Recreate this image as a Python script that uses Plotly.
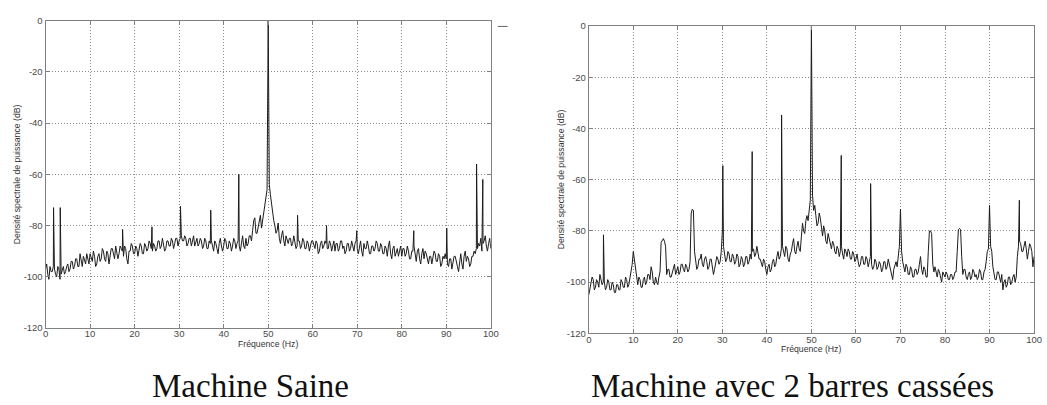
import numpy as np
import plotly.graph_objects as go

# ---------------- data (dB values) ----------------
# spectra sampled every 0.25 Hz from 0 to 100 Hz (401 values each, 20 per 5 Hz row)
saine_db = [
    -97, -95, -99, -101, -96, -98, -98, -96, -97, -99, -100, -96, -97, -101, -99, -97, -96, -99, -98, -96,
    -95, -98, -97, -94, -94, -97, -96, -93, -93, -96, -96, -91, -94, -96, -92, -94, -95, -91, -93, -95,
    -91, -93, -94, -90, -92, -96, -95, -92, -91, -94, -93, -89, -90, -93, -94, -90, -91, -95, -92, -89,
    -89, -92, -93, -88, -90, -93, -91, -88, -89, -90, -92, -88, -89, -93, -95, -90, -90, -87, -88, -91,
    -91, -88, -89, -92, -90, -87, -88, -91, -91, -87, -88, -90, -89, -86, -87, -89, -90, -87, -88, -90,
    -89, -86, -86, -89, -88, -85, -87, -90, -89, -86, -86, -88, -88, -85, -86, -89, -87, -85, -85, -88,
    -86, -85, -84, -86, -86, -84, -85, -88, -87, -85, -85, -88, -86, -84, -88, -86, -85, -88, -87, -85,
    -86, -89, -88, -85, -86, -89, -89, -86, -87, -86, -88, -90, -86, -87, -89, -91, -87, -85, -88, -90,
    -88, -85, -86, -89, -89, -86, -87, -90, -88, -85, -86, -89, -87, -86, -88, -90, -86, -84, -88, -89,
    -85, -88, -87, -84, -84, -86, -82, -78, -77, -83, -83, -80, -79, -76, -81, -78, -76, -72, -71, -66,
    0, -64, -68, -72, -75, -78, -80, -83, -82, -79, -85, -87, -84, -82, -86, -88, -84, -86, -87, -85,
    -85, -88, -87, -84, -86, -89, -88, -86, -86, -89, -88, -85, -86, -89, -89, -86, -87, -90, -88, -86,
    -86, -88, -89, -86, -87, -91, -90, -87, -86, -89, -88, -86, -87, -89, -89, -86, -87, -90, -88, -86,
    -90, -87, -87, -90, -89, -86, -86, -89, -88, -91, -90, -87, -87, -90, -89, -86, -88, -90, -87, -86,
    -89, -91, -88, -86, -90, -92, -87, -89, -89, -86, -88, -91, -91, -88, -88, -90, -89, -86, -87, -90,
    -90, -87, -88, -91, -91, -88, -89, -92, -88, -86, -91, -93, -89, -88, -92, -90, -89, -92, -90, -88,
    -92, -89, -89, -92, -91, -88, -90, -93, -93, -90, -90, -88, -92, -94, -90, -89, -93, -95, -91, -89,
    -93, -90, -91, -94, -95, -92, -92, -95, -93, -90, -91, -94, -94, -91, -92, -96, -95, -92, -93, -91,
    -93, -95, -96, -93, -93, -97, -95, -92, -92, -95, -96, -98, -93, -91, -95, -97, -92, -90, -94, -92,
    -93, -96, -95, -92, -92, -90, -91, -89, -89, -87, -88, -85, -90, -87, -86, -84, -88, -90, -87, -85,
    -89,
]
saine_peak_freq = [1.8, 3.3, 17.3, 23.9, 30.3, 37.1, 43.4, 56.6, 63.1, 69.9, 82.7, 90.1, 96.8, 98.2]
saine_peak_db = [-73, -73, -81.5, -80.5, -72.5, -74, -60, -76, -80, -82, -82, -81, -56, -62]

cassees_db = [
    -105, -102, -100, -98, -99, -103, -102, -99, -100, -102, -97, -99, -101, -100, -100, -103, -102, -99, -100, -103,
    -103, -100, -101, -104, -104, -101, -101, -103, -103, -99, -100, -102, -102, -98, -99, -102, -101, -98, -97, -93,
    -88, -91, -96, -99, -101, -98, -99, -102, -102, -99, -98, -101, -100, -97, -97, -99, -94, -96, -100, -101,
    -98, -100, -101, -98, -96, -84.5, -83.5, -83, -84, -86, -97, -95, -95, -98, -98, -96, -95, -93, -97, -95,
    -94, -97, -96, -93, -93, -95, -96, -93, -94, -96, -95, -92, -73, -71.5, -72, -88, -92, -95, -94, -91,
    -91, -89, -93, -94, -91, -90, -92, -95, -94, -91, -91, -94, -97, -95, -93, -90, -91, -93, -92, -88,
    -80, -86, -89, -92, -91, -88, -89, -92, -92, -89, -90, -93, -92, -89, -90, -94, -93, -90, -91, -94,
    -93, -90, -90, -93, -92, -89, -91, -88, -87, -90, -89, -86, -88, -91, -91, -93, -94, -91, -92, -95,
    -97, -94, -93, -96, -95, -92, -91, -94, -93, -90, -88, -91, -90, -87, -86, -89, -90, -86, -87, -91,
    -92, -89, -88, -85, -83, -88, -89, -86, -84, -87, -88, -82, -77, -80, -81, -76, -74, -76, -71, -68,
    0, -66, -72, -70, -74, -78, -77, -73, -75, -80, -82, -78, -80, -84, -85, -81, -83, -86, -87, -84,
    -85, -88, -89, -86, -87, -90, -88, -86, -89, -91, -87, -88, -90, -87, -88, -91, -91, -88, -89, -92,
    -91, -89, -92, -94, -93, -90, -90, -93, -93, -90, -91, -94, -92, -90, -93, -95, -94, -91, -92, -95,
    -94, -92, -93, -96, -95, -92, -92, -95, -94, -91, -93, -96, -97, -99, -95, -93, -92, -94, -90, -86,
    -71.5, -88, -92, -95, -96, -93, -94, -97, -97, -94, -95, -98, -98, -95, -95, -97, -96, -93, -90, -95,
    -97, -94, -95, -98, -98, -88, -80, -80, -81, -93, -96, -94, -97, -98, -95, -96, -98, -100, -96, -97,
    -98, -96, -97, -99, -99, -97, -97, -99, -98, -96, -96, -88, -79.5, -79, -79.5, -90, -97, -95, -95, -98,
    -99, -97, -96, -99, -98, -95, -96, -98, -97, -99, -98, -95, -96, -99, -99, -96, -95, -92, -88, -87,
    -70, -86, -88, -94, -97, -99, -99, -96, -96, -99, -100, -97, -103, -100, -99, -102, -101, -98, -98, -101,
    -100, -98, -97, -100, -98, -90, -86, -84, -85, -88, -88, -85, -84, -87, -91, -88, -85, -86, -88, -94,
    -90,
]
cassees_peak_freq = [3.3, 30.1, 36.7, 43.3, 56.7, 63.3, 96.7]
cassees_peak_db = [-81.5, -54.5, -49, -34.7, -50.5, -61.5, -68]

assert len(saine_db) == 401 and len(cassees_db) == 401
grid_freq = [round(0.25 * i, 2) for i in range(401)]

y_tick_vals = [0, -20, -40, -60, -80, -100, -120]
y_tick_text = ["0", "-20", "-40", "-60", "-80", "-100", "-120"]
x_tick_vals = [0, 10, 20, 30, 40, 50, 60, 70, 80, 90, 100]
x_tick_text = [str(v) for v in x_tick_vals]

x_title = "Fréquence (Hz)"
y_title = "Densité spectrale de puissance (dB)"
captions = ["Machine Saine", "Machine avec 2 barres cassées"]


def merge(grid, vals, pf, pv):
    f = np.array(list(grid) + list(pf), dtype=float)
    v = np.array(list(vals) + list(pv), dtype=float)
    order = np.argsort(f, kind="stable")
    return f[order], v[order]


f1, v1 = merge(grid_freq, saine_db, saine_peak_freq, saine_peak_db)
f2, v2 = merge(grid_freq, cassees_db, cassees_peak_freq, cassees_peak_db)

# ---------------- layout ----------------
W, H = 1047, 405


def px(p):
    return p / W


def py(p):
    return 1 - p / H


line_style = dict(color="#1c1c1c", width=1)
fig = go.Figure()
fig.add_trace(go.Scatter(x=f1, y=v1, mode="lines", line=line_style,
                         xaxis="x", yaxis="y", showlegend=False))
fig.add_trace(go.Scatter(x=f2, y=v2, mode="lines", line=line_style,
                         xaxis="x2", yaxis="y2", showlegend=False))

tickfont = dict(family="Liberation Sans, Arial, sans-serif", size=9.5, color="#4a4a4a")
common = dict(showline=True, linecolor="#808080", linewidth=1, mirror="ticks",
              ticks="inside", ticklen=4, tickcolor="#808080", tickwidth=1,
              showgrid=True, gridcolor="#8c8c8c", griddash="1px,2px", gridwidth=1,
              zeroline=False, tickfont=tickfont, fixedrange=True)

fig.update_layout(
    width=W, height=H,
    margin=dict(l=0, r=0, t=0, b=0),
    paper_bgcolor="white", plot_bgcolor="white",
    xaxis=dict(domain=[px(43), px(493)], range=[0, 100], anchor="y",
               tickvals=x_tick_vals, ticktext=x_tick_text, ticklabelstandoff=-3, **common),
    yaxis=dict(domain=[py(331), py(15)], range=[-120, 0], anchor="x",
               tickvals=y_tick_vals, ticktext=y_tick_text, **common),
    xaxis2=dict(domain=[px(592), px(1042)], range=[0, 100], anchor="y2",
                tickvals=x_tick_vals, ticktext=x_tick_text, ticklabelstandoff=-3, **common),
    yaxis2=dict(domain=[py(336.5), py(20.7)], range=[-120, 0], anchor="x2",
                tickvals=y_tick_vals, ticktext=y_tick_text, **common),
)

title_font = dict(family="Liberation Sans, Arial, sans-serif", size=8.7, color="#333333")
cap_font = dict(family="Liberation Serif, Times New Roman, serif", size=33, color="#111111")
ann = [
    dict(text=x_title, x=px(268), y=py(347), font=title_font),
    dict(text=x_title, x=px(817), y=py(353), font=title_font),
    dict(text=y_title, x=px(14), y=py(173), textangle=-90, font=title_font),
    dict(text=y_title, x=px(564), y=py(178), textangle=-90, font=title_font),
    dict(text=captions[0], x=px(250), y=py(390.5), font=cap_font),
    dict(text=captions[1], x=px(798), y=py(390.5), font=cap_font),
]
for a in ann:
    a.update(xref="paper", yref="paper", xanchor="center", yanchor="middle",
             showarrow=False)
fig.update_layout(annotations=ann)

# clipped legend stub at the top right of the first axes
fig.add_shape(type="line", xref="paper", yref="paper",
              x0=px(500), x1=px(510), y0=py(21), y1=py(21),
              line=dict(color="#666666", width=1))

fig.write_html("out.html")
